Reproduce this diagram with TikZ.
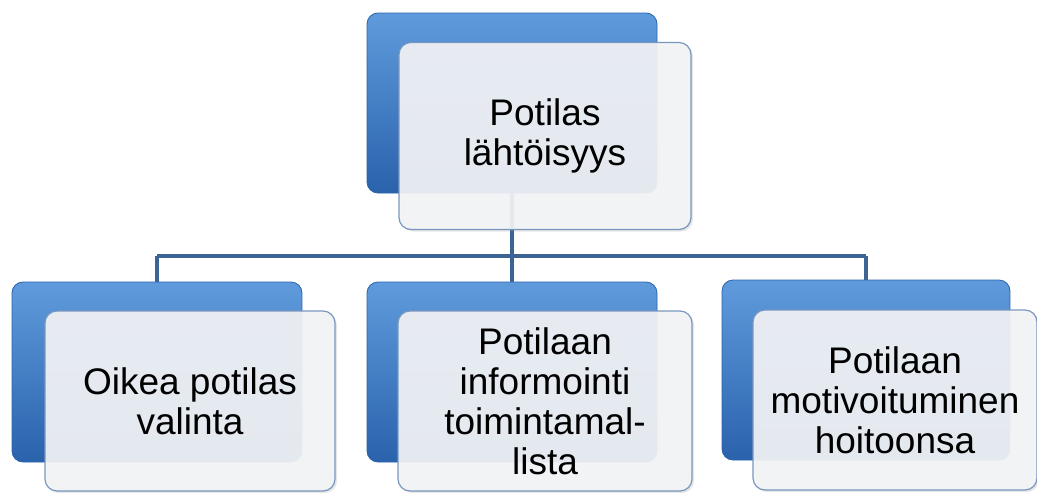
\documentclass[tikz,border=0pt]{standalone}
\usepackage{fontspec}
\setmainfont{Liberation Sans}
\usetikzlibrary{shadows}
\definecolor{boxBlue}{RGB}{58,124,202}
\definecolor{boxBlueDark}{RGB}{42,98,172}
\definecolor{boxBlueLight}{RGB}{95,155,220}
\definecolor{cardFill}{RGB}{243,244,246}
\definecolor{cardLine}{RGB}{120,150,190}
\definecolor{linkBlue}{RGB}{62,100,150}

\begin{document}
\begin{tikzpicture}[x=1pt, y=-1pt,
    backbox/.style={rounded corners=11pt, draw=boxBlueDark, line width=0.8pt,
      top color=boxBlueLight, middle color=boxBlue, bottom color=boxBlueDark,
      minimum width=290pt, minimum height=180pt, inner sep=0pt},
    card/.style={rounded corners=12pt, draw=cardLine, line width=1.2pt,
      fill=cardFill, fill opacity=0.92, text opacity=1,
      drop shadow={opacity=0.2, shadow xshift=2pt, shadow yshift=-2pt},
      minimum width=292pt, minimum height=180pt, inner sep=0pt,
      align=center, font=\fontsize{37}{40}\selectfont},
    link/.style={linkBlue, line width=3.5pt}]
    \useasboundingbox (0,0) rectangle (1037,493);
    % back boxes
    \node[backbox] (topb) at (512,103) {};
    \node[backbox] (c1b) at (157,372) {};
    \node[backbox] (c2b) at (512,372) {};
    \node[backbox, minimum width=288pt] (c3b) at (866,370) {};
    % links through the bus
    \coordinate (bus) at (512,256);
    \draw[link] (topb.south) -- (bus);
    \draw[link] (c1b.north |- bus) -- (c3b.north |- bus);
    \foreach \n in {c1b,c2b,c3b}{
      \draw[link] (\n.north |- bus) -- (\n.north);}
    % cards on top
    \node[card, minimum height=187pt] (topf) at (545,136) {Potilas\\lähtöisyys};
    \node[card, minimum width=290pt] (c1f) at (190,401) {Oikea potilas\\valinta};
    \node[card, minimum width=294pt] (c2f) at (545,401) {Potilaan\\informointi\\toimintamal-\\lista};
    \node[card, minimum width=284pt] (c3f) at (895,400) {Potilaan\\motivoituminen\\hoitoonsa};
  \end{tikzpicture}
\end{document}
